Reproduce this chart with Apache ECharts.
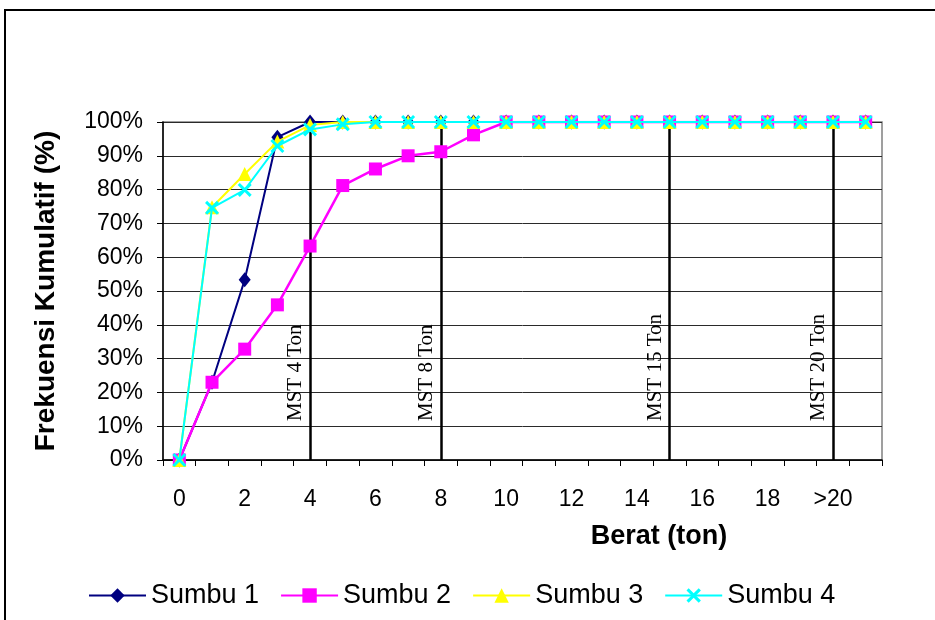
<!DOCTYPE html>
<html>
<head>
<meta charset="utf-8">
<script src="https://cdn.jsdelivr.net/npm/echarts/dist/echarts.min.js"></script>
<style>
  html, body { margin: 0; padding: 0; background: #ffffff; }
  #chart { width: 935px; height: 620px; }
</style>
</head>
<body>
<div id="chart"></div>
<script>
// Weight classes (ton) on the category axis
var categories = ['0','1','2','3','4','5','6','7','8','9','10','11','12','13','14','15','16','17','18','19','>20',''];

// Cumulative frequency (%) per axle group
var sumbu1 = [0, 23, 53.3, 95.5, 100, 100, 100, 100, 100, 100, 100, 100, 100, 100, 100, 100, 100, 100, 100, 100, 100, 100];
var sumbu2 = [0, 23, 32.8, 45.9, 63.3, 81.2, 86.1, 90, 91.2, 96.2, 100, 100, 100, 100, 100, 100, 100, 100, 100, 100, 100, 100];
var sumbu3 = [0, 74.8, 84.6, 94.2, 99.1, 100, 100, 100, 100, 100, 100, 100, 100, 100, 100, 100, 100, 100, 100, 100, 100, 100];
var sumbu4 = [0, 74.6, 79.9, 92.9, 97.8, 99.3, 100, 100, 100, 100, 100, 100, 100, 100, 100, 100, 100, 100, 100, 100, 100, 100];

// Load limits (MST) drawn as vertical reference lines
var mstCategories = ['4', '8', '15', '>20'];
var mstLabels = ['MST 4 Ton', 'MST 8 Ton', 'MST 15 Ton', 'MST 20 Ton'];

var SANS = 'Arial, "Liberation Sans", sans-serif';
var SERIF = '"Times New Roman", "Liberation Serif", serif';

var crossPath = 'path://M0,1.5L1.5,0L5,3.5L8.5,0L10,1.5L6.5,5L10,8.5L8.5,10L5,6.5L1.5,10L0,8.5L3.5,5Z';

var chart = echarts.init(document.getElementById('chart'));

function lineSeries(name, data, color, symbol, size, width, z) {
  return {
    name: name,
    type: 'line',
    data: data,
    symbol: symbol,
    symbolSize: size,
    showAllSymbol: true,
    z: z,
    lineStyle: { color: color, width: width },
    itemStyle: { color: color, borderWidth: 0 },
    emphasis: { disabled: true },
    animation: false
  };
}

var series = [
  lineSeries('Sumbu 1', sumbu1, '#000080', 'diamond', [12, 15], 2, 3),
  lineSeries('Sumbu 2', sumbu2, '#FF00FF', 'rect', 13, 2.5, 4),
  lineSeries('Sumbu 3', sumbu3, '#FFFF00', 'triangle', 14, 2, 5),
  lineSeries('Sumbu 4', sumbu4, '#00FFFF', crossPath, 14, 2, 6)
];

// Reference lines at the MST weight classes
series[0].markLine = {
  silent: true,
  symbol: 'none',
  animation: false,
  z: 2,
  lineStyle: { color: '#000000', width: 2.5, type: 'solid' },
  label: { show: false },
  data: mstCategories.map(function (c) { return { xAxis: c }; })
};

chart.setOption({
  animation: false,
  backgroundColor: '#ffffff',
  grid: {
    left: 163, top: 122, right: 53, bottom: 160,
    show: true, borderColor: '#808080', borderWidth: 1.5, backgroundColor: 'transparent'
  },
  legend: {
    left: 83, top: 577,
    itemWidth: 57, itemHeight: 18, itemGap: 21,
    textStyle: { fontFamily: SANS, fontSize: 27, color: '#000000' },
    selectedMode: false,
    data: ['Sumbu 1', 'Sumbu 2', 'Sumbu 3', 'Sumbu 4']
  },
  xAxis: {
    type: 'category',
    data: categories,
    boundaryGap: true,
    axisLine: { lineStyle: { color: '#000000', width: 1.5 } },
    axisTick: { show: true, interval: 0, length: 6, lineStyle: { color: '#000000' } },
    axisLabel: { interval: 1, margin: 28, fontFamily: SANS, fontSize: 23, color: '#000000' },
    splitLine: { show: false }
  },
  yAxis: {
    type: 'value',
    min: 0, max: 100, interval: 10,
    name: 'Frekuensi Kumulatif (%)',
    nameLocation: 'middle',
    nameGap: 103,
    nameTextStyle: { fontFamily: SANS, fontSize: 28, fontWeight: 'bold', color: '#000000' },
    axisLine: { show: true, lineStyle: { color: '#000000', width: 1.5 } },
    axisTick: { show: true, length: 6, lineStyle: { color: '#000000' } },
    axisLabel: { formatter: '{value}%', margin: 20, fontFamily: SANS, fontSize: 23, color: '#000000' },
    splitLine: { show: true, lineStyle: { color: '#2a2a2a', width: 1 } }
  },
  graphic: [
    {
      id: 'frame', type: 'rect', silent: true, z: 0,
      shape: { x: 5, y: 10, width: 1000, height: 700 },
      style: { fill: 'transparent', stroke: '#000000', lineWidth: 2 }
    },
    {
      id: 'xTitle', type: 'text', silent: true,
      x: 659, y: 537,
      style: { text: 'Berat (ton)', fontFamily: SANS, fontSize: 27, fontWeight: 'bold', fill: '#000000', align: 'center', verticalAlign: 'middle' }
    }
  ],
  series: series
});

// Rotated MST captions placed just left of each reference line
var yBottom = chart.convertToPixel({ yAxisIndex: 0 }, 0);
var captions = mstCategories.map(function (c, i) {
  var x = chart.convertToPixel({ xAxisIndex: 0 }, c);
  return {
    id: 'mst' + i, type: 'text', silent: true, z: 10,
    x: x - 4, y: yBottom - 39,
    rotation: Math.PI / 2,
    style: { text: mstLabels[i], fontFamily: SERIF, fontSize: 21, fill: '#000000', align: 'left', verticalAlign: 'bottom' }
  };
});
chart.setOption({ graphic: captions });
</script>
</body>
</html>
